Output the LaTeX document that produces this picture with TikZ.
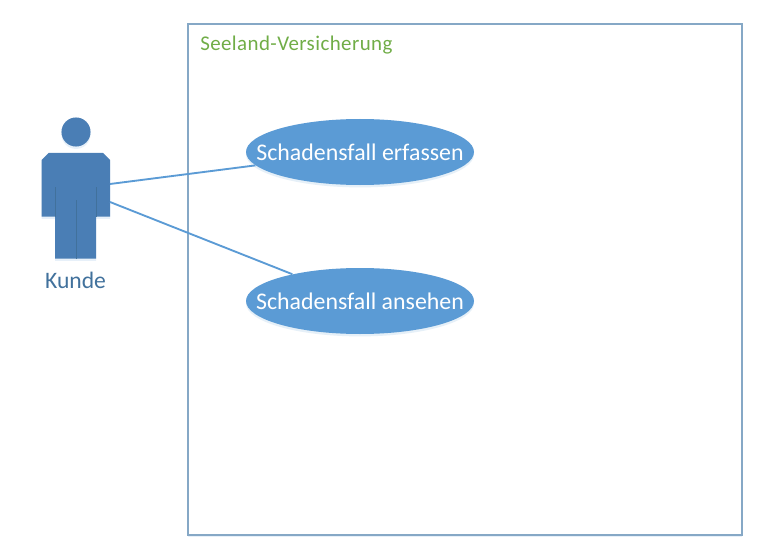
\documentclass[tikz,border=0pt]{standalone}
\usepackage{fontspec}
\setmainfont{Carlito}
\usetikzlibrary{shapes.geometric,shadows}
\definecolor{usecase}{HTML}{5B9BD5}
\definecolor{actorfill}{HTML}{4A7EB5}
\definecolor{actorline}{HTML}{41719C}
\definecolor{frameline}{HTML}{86A8C6}
\definecolor{titlegreen}{HTML}{70AD47}
\definecolor{softshadow}{HTML}{5B9BD5}
\tikzset{
  softdrop/.style={drop shadow={fill=softshadow,opacity=.15,shadow xshift=0pt,shadow yshift=-1.8pt}},
  usecasebox/.style={ellipse,fill=usecase,text=white,inner sep=0pt,minimum width=171pt,minimum height=49.5pt,font=\fontsize{17.9pt}{20pt}\selectfont,softdrop},
  framebox/.style={rectangle,draw=frameline,line width=1.2pt,fill=white,inner sep=0pt,minimum width=415.5pt,minimum height=383.25pt,softdrop},
  actorpart/.style={fill=actorfill,softdrop},
  actorseam/.style={draw=actorline,line width=.7pt},
  link/.style={draw=usecase,line width=1.4pt},
  systemtitle/.style={text=titlegreen,anchor=west,inner sep=0pt,font=\fontsize{15.7pt}{18pt}\selectfont\addfontfeature{LetterSpace=2}},
  actorlabel/.style={text=actorline,inner sep=0pt,font=\fontsize{17.7pt}{20pt}\selectfont}
}
\begin{document}
\begin{tikzpicture}[x=.75pt,y=-.75pt]
\useasboundingbox (0,0) rectangle (763,549);
\node[framebox] (system) at (465,279.5) {};
\node[systemtitle] (systemname) at (200,45.5) {Seeland-Versicherung};
% actor
\path[actorpart] (41.5,160) -- (48.5,153) -- (103,153) -- (110,160) -- (110,216.5) -- (96,216.5) -- (96,258.5) -- (55,258.5) -- (55,216.5) -- (41.5,216.5) -- cycle;
\node[circle,fill=actorfill,inner sep=0pt,minimum size=21.8pt,softdrop] (head) at (76,132) {};
\draw[actorseam] (55,187) -- (55,216.5);
\draw[actorseam] (96,187) -- (96,216.5);
\draw[actorseam] (76,200) -- (76,258.5);
\node[actorlabel] (kunde) at (75.5,280) {Kunde};
\coordinate (armA) at (110,184);
\coordinate (armB) at (110,202);
% use cases
\node[usecasebox] (erfassen) at (360,152) {\makebox[0pt]{Schadensfall erfassen}};
\node[usecasebox] (ansehen) at (360,301) {\makebox[0pt]{Schadensfall ansehen}};
\draw[link] (armA) -- (erfassen);
\draw[link] (armB) -- (ansehen);
\end{tikzpicture}
\end{document}
